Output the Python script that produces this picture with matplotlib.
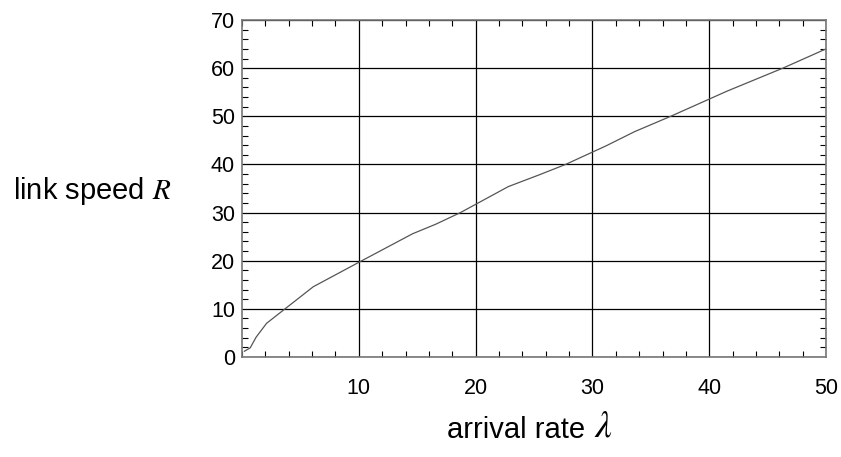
import matplotlib
matplotlib.use("Agg")
import matplotlib.pyplot as plt
from matplotlib.ticker import MultipleLocator

plt.rcParams["mathtext.fontset"] = "stix"

# Values
arrival_rate = [0.2, 0.7, 1.2, 2.1, 6.1, 10.1, 14.6, 16.6, 18.7, 22.8, 25.4,
                27.7, 31.2, 33.6, 36.7, 41.5, 46.3, 50.0]
link_speed = [1.2, 1.9, 4.1, 7.0, 14.6, 19.8, 25.6, 27.6, 30.0, 35.4, 37.8,
              40.0, 43.9, 46.8, 50.0, 55.2, 60.0, 64.0]

x_ticks = [10, 20, 30, 40, 50]
y_ticks = [0, 10, 20, 30, 40, 50, 60, 70]

fig = plt.figure(figsize=(8.41, 4.57), dpi=100)
ax = fig.add_axes([0.2878, 0.2188, 0.6944, 0.7374])

ax.plot(arrival_rate, link_speed, color="#555555", lw=0.9)

ax.set_xlim(0, 50)
ax.set_ylim(0, 70)
ax.set_xticks(x_ticks)
ax.set_yticks(y_ticks)
ax.xaxis.set_minor_locator(MultipleLocator(2))
ax.yaxis.set_minor_locator(MultipleLocator(2))
ax.tick_params(which="both", direction="in", top=True, right=True, colors="black")
ax.tick_params(which="major", length=0)
ax.tick_params(axis="x", which="major", pad=15)
ax.tick_params(axis="y", which="major", pad=5)
ax.tick_params(which="minor", length=4, width=0.8)
for lab in ax.get_xticklabels() + ax.get_yticklabels():
    lab.set_fontfamily("Liberation Sans")
    lab.set_fontsize(15.5)
ax.grid(True, which="major", color="black", lw=0.9)

for s in ax.spines.values():
    s.set_color("#777777")
    s.set_linewidth(1.2)

# Axis labels, Mathematica style
fig.text(0.015, 0.582, "link speed $R$", fontsize=21, family="Liberation Sans",
         ha="left", va="center")
fig.text(0.531, 0.059, "arrival rate", fontsize=21,
         family="Liberation Sans", ha="left", va="center")
fig.text(0.706, 0.066, r"$\lambda$", fontsize=27, ha="left", va="center")

fig.savefig("out.png", dpi=100)
